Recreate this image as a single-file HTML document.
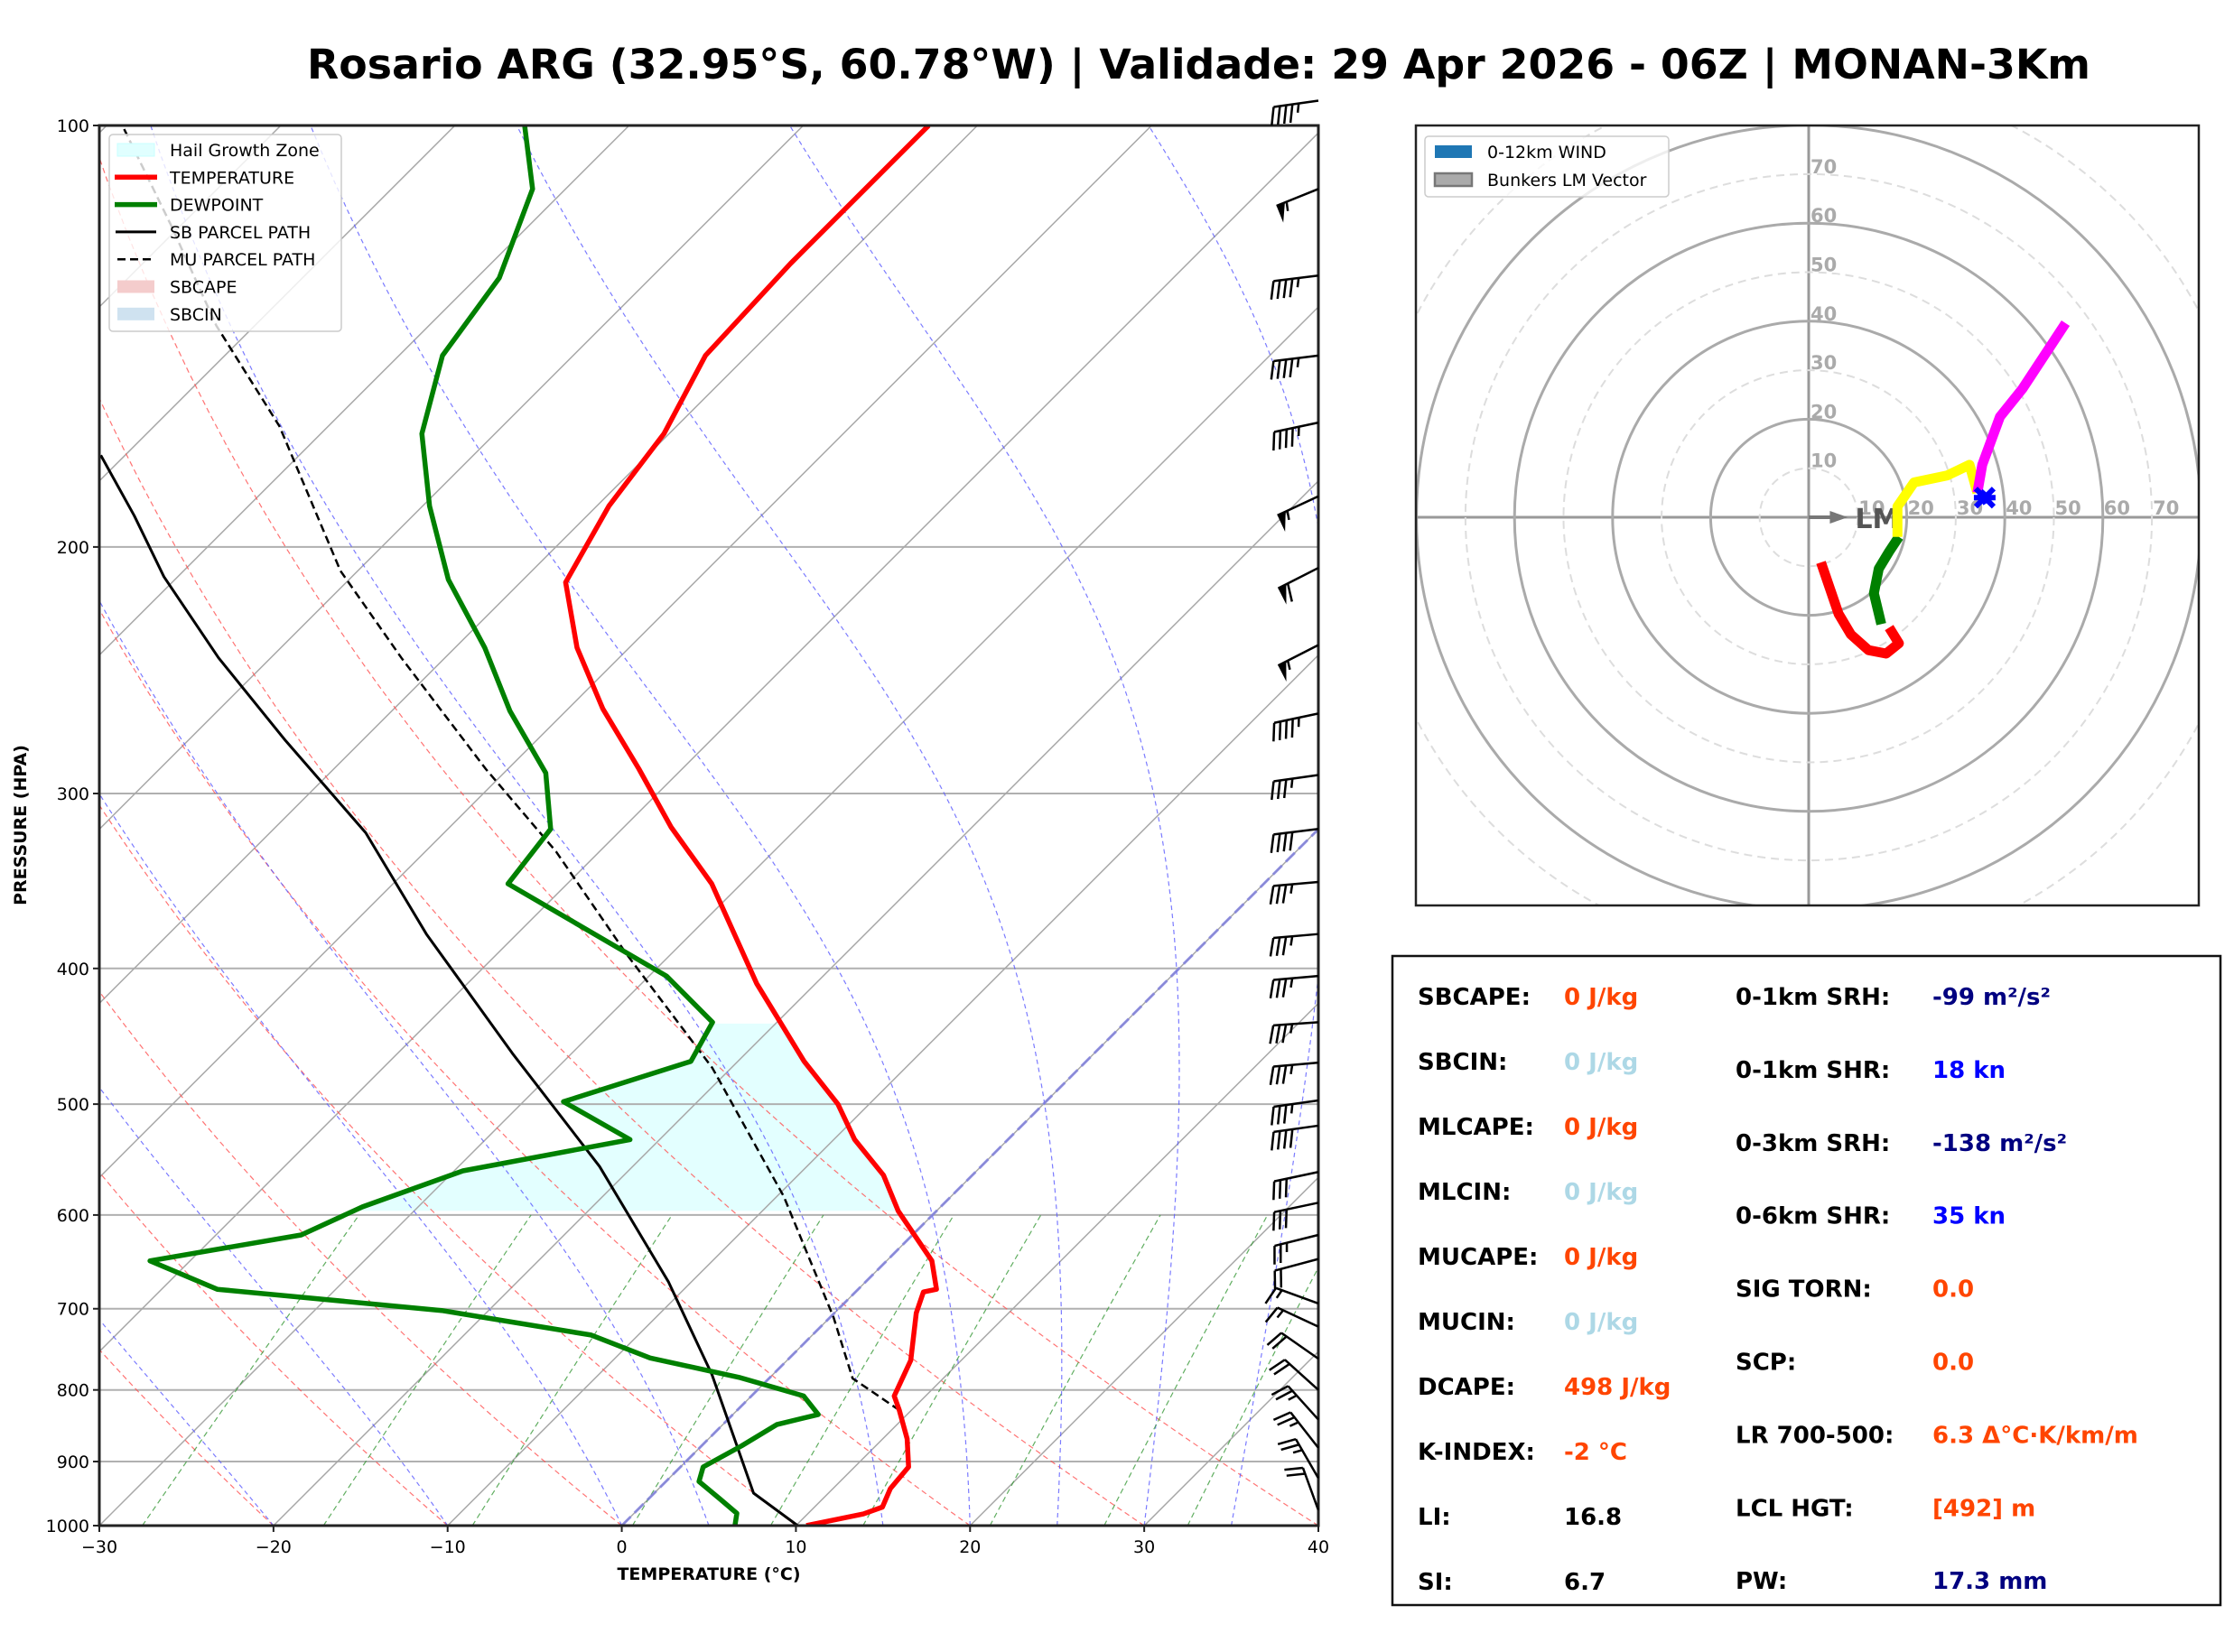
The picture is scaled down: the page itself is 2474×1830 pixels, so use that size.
<!DOCTYPE html>
<html><head><meta charset="utf-8"><style>
html,body{margin:0;padding:0;background:#fff}
svg{display:block;font-family:"DejaVu Sans","Liberation Sans",sans-serif}
</style></head><body>
<svg id="root" width="2474" height="1830" viewBox="0 0 2474 1830" xmlns="http://www.w3.org/2000/svg">
<defs>
<clipPath id="skewClip"><rect x="110" y="139" width="1350" height="1551"/></clipPath>
<clipPath id="hodoClip"><rect x="1568" y="139" width="867" height="864"/></clipPath>
</defs>
<rect width="2474" height="1830" fill="#fff"/>
<text x="340" y="87" font-size="45" font-weight="bold" textLength="1975" lengthAdjust="spacingAndGlyphs">Rosario ARG (32.95°S, 60.78°W) | Validade: 29 Apr 2026 - 06Z | MONAN-3Km</text>
<g id="skew"></g>
<g id="hodo"></g>
<g id="stats"></g>
</svg>
<script>
// ---- Sounding data ----
const tempP = [1000,981,970,941,908,867,827,808,762,705,681,678,647,596,562,530,500,466,410,348,317,288,261,236,212,187,166,146,125.5,100];
const tempT = [10.6,13.2,13.9,13.3,13.1,11.4,9.3,8.2,7.1,4.7,3.9,4.5,2.6,-2.2,-5.1,-8.8,-11.8,-16.2,-23.4,-31.7,-37.3,-42.5,-48,-53,-57.4,-59.3,-60.3,-62.4,-62.8,-62.8];
const dewP = [1000,980,957,930,908,877,847,833,808,784,759,731,702,678,647,620,592,558,530,498,466,437,405,348,318,290,262,236,211,187,166,146,128.5,111,100];
const dewT = [6.5,5.9,4.1,1.9,1.3,2.3,3.1,4.9,3.0,-1.7,-8,-12.7,-22.7,-36.8,-42.3,-35.1,-33.2,-29.5,-21.7,-27.7,-22.7,-23.7,-29,-43.4,-44.1,-47.6,-53.2,-58.3,-64.3,-69.6,-74.2,-77.5,-78.7,-81.9,-86];
const sbP = [1000,948,780,670,554,460,378,320,275,240,210,190,172];
const sbT = [10.1,5.7,-3.5,-11.3,-21.9,-33.4,-45.2,-54.5,-64.4,-73,-80.8,-86,-91.4];
const muP = [827,785,710,582,471,391,330,288,240,208,164,139,118,100];
const muT = [9.3,4.8,0.2,-9.6,-21.1,-32.5,-42.5,-51.3,-62.5,-71,-82.8,-92.2,-100.5,-109.1];
const hailTop = 437, hailBot = 596;
// wind barbs
const barbP = [96,111,128,146,163,184,207,235,263,291,318,347,378,405,437,467,497,518,559,588,620,645,694,721,760,800,840,880,925,975];
const barbSpd = [45,55,45,45,45,55,60,55,45,35,40,35,35,35,35,35,35,40,30,30,25,20,15,15,20,20,25,25,25,20];
const barbDir = [262,248,263,263,258,245,243,243,258,262,263,265,265,265,266,265,262,262,258,258,256,255,290,295,305,312,318,322,330,340];
// hodograph (knots)
const hodoRedU = [2.5,6.1,8.6,12.2,15.8,18.4,16.4];
const hodoRedV = [-9.2,-19.7,-23.9,-27.1,-27.8,-25.7,-22.5];
const hodoGreenU = [14.8,13.3,14.3,16.4,18.4];
const hodoGreenV = [-21.8,-15.5,-10.5,-7,-4];
const hodoYellowU = [18.1,18.1,21.5,28.2,32.8,34.4];
const hodoYellowV = [-4,2.2,7.1,8.5,10.7,5];
const hodoMagU = [34.4,35.4,39,43.6,52.4];
const hodoMagV = [5,10.7,20.5,26.2,39.6];
const hodoBlueU = [34.8,35.9,36.5];
const hodoBlueV = [5,4,3];
const lmU = 8, lmV = 0;
// stats
const statL = [["SBCAPE:","0 J/kg","#ff4500"],["SBCIN:","0 J/kg","#add8e6"],["MLCAPE:","0 J/kg","#ff4500"],["MLCIN:","0 J/kg","#add8e6"],["MUCAPE:","0 J/kg","#ff4500"],["MUCIN:","0 J/kg","#add8e6"],["DCAPE:","498 J/kg","#ff4500"],["K-INDEX:","-2 °C","#ff4500"],["LI:","16.8","#000"],["SI:","6.7","#000"]];
const statR = [["0-1km SRH:","-99 m²/s²","#000080"],["0-1km SHR:","18 kn","#0000ff"],["0-3km SRH:","-138 m²/s²","#000080"],["0-6km SHR:","35 kn","#0000ff"],["SIG TORN:","0.0","#ff4500"],["SCP:","0.0","#ff4500"],["LR 700-500:","6.3 Δ°C·K/km/m","#ff4500"],["LCL HGT:","[492] m","#ff4500"],["PW:","17.3 mm","#000080"]];

const NS="http://www.w3.org/2000/svg";
function mk(tag,attrs,parent){const e=document.createElementNS(NS,tag);for(const k in attrs)e.setAttribute(k,attrs[k]);if(parent)parent.appendChild(e);return e;}
const L=110,R=1460,T0=139,B=1690,PXC=1350/70;
function Y(p){return T0+(Math.log10(p)-2)*1551;}
function X(t,p){return L+(t+30)*PXC+(B-Y(p));}
function pts(P,Tt){return P.map((p,i)=>X(Tt[i],p).toFixed(1)+","+Y(p).toFixed(1)).join(" ");}
const skew=document.getElementById('skew');
const bg=mk('g',{'clip-path':'url(#skewClip)'},skew);


function interp(P,Tt,p){for(let i=0;i<P.length-1;i++){if(p<=P[i]&&p>=P[i+1]){const f=(Math.log(P[i])-Math.log(p))/(Math.log(P[i])-Math.log(P[i+1]));return Tt[i]+f*(Tt[i+1]-Tt[i]);}}return Tt[Tt.length-1];}
{let a=[],b=[];for(let p=hailBot;p>=hailTop;p-=2){a.push(X(interp(dewP,dewT,p),p).toFixed(1)+","+Y(p).toFixed(1));b.unshift(X(interp(tempP,tempT,p),p).toFixed(1)+","+Y(p).toFixed(1));}
const hz=mk('polygon',{points:a.concat(b).join(" "),fill:"#e0ffff",opacity:0.9},bg);

}
for(let p=200;p<=900;p+=100){mk('line',{x1:L,x2:R,y1:Y(p),y2:Y(p),stroke:"#b0b0b0","stroke-width":2},bg);}
for(let t=-130;t<=40;t+=10){mk('line',{x1:X(t,1000),y1:Y(1000),x2:X(t,100),y2:Y(100),stroke:"#a8a8a8","stroke-width":1.5},bg);}
// dry adiabats
for(let th=-40;th<=40;th+=10){let s=[];for(let p=1000;p>=100;p-=10){const t=(th+273.15)*Math.pow(p/1000,0.286)-273.15;s.push(X(t,p).toFixed(1)+","+Y(p).toFixed(1));}
mk('polyline',{points:s.join(" "),fill:"none",stroke:"#ff5050","stroke-width":1.2,"stroke-dasharray":"6,4",opacity:0.8},bg);}
// moist adiabats
function es(tc){return 6.112*Math.exp(17.67*tc/(tc+243.5));}
[-20,-10,0,5,15,20,25,30,35].forEach(t0=>{let tk=t0+273.15,s=[];for(let p=1000;p>=100;p-=5){s.push(X(tk-273.15,p).toFixed(1)+","+Y(p).toFixed(1));const e=es(tk-273.15);const rs=0.622*e/(p-e);const dTdp=(287*tk+2.5e6*rs)/(p*(1004+2.5e6*2.5e6*rs*0.622/(287*tk*tk)));tk-=dTdp*5;}
mk('polyline',{points:s.join(" "),fill:"none",stroke:"#5a5aff","stroke-width":1.2,"stroke-dasharray":"5,4",opacity:0.8},bg);});
[0.4,1,2,4,7,10,16,24,32].forEach(w=>{let s=[];for(let p=1000;p>=600;p-=20){const e=w*p/(622+w);const ln=Math.log(e/6.112);const td=243.5*ln/(17.67-ln);s.push(X(td,p).toFixed(1)+","+Y(p).toFixed(1));}
mk('polyline',{points:s.join(" "),fill:"none",stroke:"#3a9a3a","stroke-width":1.2,"stroke-dasharray":"6,4",opacity:0.8},bg);});
mk('line',{x1:X(0,1000),y1:Y(1000),x2:X(0,100),y2:Y(100),stroke:"#8080e0","stroke-width":3,"stroke-dasharray":"14,6",opacity:0.8},bg);
const sbl=mk('polyline',{points:pts(sbP,sbT),fill:"none",stroke:"#000","stroke-width":3,"stroke-linejoin":"round"},bg);


const mul=mk('polyline',{points:pts(muP,muT),fill:"none",stroke:"#000","stroke-width":2.5,"stroke-dasharray":"9,5"},bg);


const dl=mk('polyline',{points:pts(dewP,dewT),fill:"none",stroke:"#008000","stroke-width":5.5,"stroke-linejoin":"round"},bg);


const tl=mk('polyline',{points:pts(tempP,tempT),fill:"none",stroke:"#ff0000","stroke-width":5.5,"stroke-linejoin":"round"},bg);


mk('rect',{x:L,y:T0,width:R-L,height:B-T0,fill:"none",stroke:"#222","stroke-width":3},skew);
[100,200,300,400,500,600,700,800,900,1000].forEach(p=>{mk('line',{x1:L-7,x2:L,y1:Y(p),y2:Y(p),stroke:"#222","stroke-width":2},skew);
const t=mk('text',{x:L-11,y:Y(p)+7,"font-size":19,"text-anchor":"end"},skew);t.textContent=p;

});
for(let v=-30;v<=40;v+=10){mk('line',{x1:L+(v+30)*PXC,x2:L+(v+30)*PXC,y1:B,y2:B+7,stroke:"#222","stroke-width":2},skew);
const t=mk('text',{x:L+(v+30)*PXC,y:B+30,"font-size":19,"text-anchor":"middle"},skew);t.textContent=(v<0?"−"+(-v):v);

}
{const t=mk('text',{x:785,y:1750,"font-size":19,"font-weight":"bold","text-anchor":"middle"},skew);t.textContent="TEMPERATURE (°C)";


const t2=mk('text',{x:29,y:914,"font-size":19,"font-weight":"bold","text-anchor":"middle",transform:"rotate(-90 29 914)"},skew);t2.textContent="PRESSURE (HPA)";

}
function barb(x0,y0,spd,dir,g){const r=dir*Math.PI/180;const dx=Math.sin(r),dy=-Math.cos(r);const Ls=50;const nx=dy,ny=-dx;const tx=x0+dx*Ls,ty=y0+dy*Ls;
mk('line',{x1:x0,y1:y0,x2:tx,y2:ty,stroke:"#000","stroke-width":2.5},g);
let s=Math.round(spd/5)*5,pos=0;const step=7,fl=20;
while(s>=50){const ax=tx-dx*pos,ay=ty-dy*pos,bx=tx-dx*(pos+10),by=ty-dy*(pos+10);
mk('polygon',{points:`${ax},${ay} ${bx},${by} ${ax+nx*fl},${ay+ny*fl}`,fill:"#000"},g);pos+=12;s-=50;}
while(s>=10){const ax=tx-dx*pos,ay=ty-dy*pos;mk('line',{x1:ax,y1:ay,x2:ax+nx*fl+dx*5,y2:ay+ny*fl+dy*5,stroke:"#000","stroke-width":2.5},g);pos+=step;s-=10;}
if(s>=5){if(pos===0)pos=step;const ax=tx-dx*pos,ay=ty-dy*pos;mk('line',{x1:ax,y1:ay,x2:ax+nx*fl*0.5+dx*2.5,y2:ay+ny*fl*0.5+dy*2.5,stroke:"#000","stroke-width":2.5},g);}}
barbP.forEach((p,i)=>{const g=mk('g',{},skew);


barb(R,Y(p),barbSpd[i],barbDir[i],g);});
{const lg=mk('g',{},skew);


mk('rect',{x:121,y:149,width:257,height:218,rx:4,fill:"#fff","fill-opacity":0.8,stroke:"#ccc","stroke-width":1.5},lg);
const items=[["Hail Growth Zone","patch","#e0ffff"],["TEMPERATURE","line","#ff0000"],["DEWPOINT","line","#008000"],["SB PARCEL PATH","bline","#000"],["MU PARCEL PATH","dash","#000"],["SBCAPE","patch","#f4cccc"],["SBCIN","patch","#cfe2f0"]];
items.forEach((it,i)=>{const y=166+i*30.3;
if(it[1]==="patch")mk('rect',{x:130,y:y-7,width:41,height:14,fill:it[2],stroke:it[0]==="Hail Growth Zone"?"#c8ffff":"none"},lg);
else if(it[1]==="line")mk('line',{x1:127,x2:174,y1:y,y2:y,stroke:it[2],"stroke-width":5.5},lg);
else if(it[1]==="bline")mk('line',{x1:128,x2:173,y1:y,y2:y,stroke:it[2],"stroke-width":3},lg);
else mk('line',{x1:130,x2:172,y1:y,y2:y,stroke:it[2],"stroke-width":2.5,"stroke-dasharray":"9,5"},lg);
const t=mk('text',{x:188,y:y+7,"font-size":19},lg);t.textContent=it[0];

});}

// ---- hodograph ----
const hodo=document.getElementById('hodo');
const HX=2003,HY=573,K=5.43;
function hx(u){return HX+u*K;} function hy(v){return HY-v*K;}
const hg=mk('g',{'clip-path':'url(#hodoClip)'},hodo);
mk('line',{x1:1568,x2:2435,y1:HY,y2:HY,stroke:"#999","stroke-width":3},hg);
mk('line',{x1:HX,x2:HX,y1:139,y2:1003,stroke:"#999","stroke-width":3},hg);
for(let r=10;r<=90;r+=10){const solid=r%20===0;mk('circle',{cx:HX,cy:HY,r:r*K,fill:"none",stroke:solid?"#aaa":"#ddd","stroke-width":solid?3:2,"stroke-dasharray":solid?"none":"9,6"},hg);}
for(let r=10;r<=70;r+=10){const t=mk('text',{x:hx(r)+1,y:HY-3,"font-size":21,"font-weight":"bold",fill:"#aaa"},hg);t.textContent=r;


const t2=mk('text',{x:HX+2,y:hy(r)-1,"font-size":21,"font-weight":"bold",fill:"#aaa"},hg);t2.textContent=r;

}
mk('line',{x1:HX,y1:HY,x2:hx(lmU)-12,y2:hy(lmV),stroke:"#777","stroke-width":4},hg);
mk('polygon',{points:`${hx(lmU)},${hy(lmV)} ${hx(lmU)-20},${hy(lmV)-7} ${hx(lmU)-20},${hy(lmV)+7}`,fill:"#777"},hg);
{const t=mk('text',{x:hx(lmU)+8,y:hy(lmV)+12,"font-size":30,"font-weight":"bold",fill:"#555"},hg);t.textContent="LM";

}
[[hodoRedU,hodoRedV,"#ff0000","hodo-0-3km"],[hodoGreenU,hodoGreenV,"#008000","hodo-3-6km"],[hodoYellowU,hodoYellowV,"#ffff00","hodo-6-9km"],[hodoMagU,hodoMagV,"#ff00ff","hodo-9-12km"],[hodoBlueU,hodoBlueV,"#0000ff","hodo-upper"]].forEach(s=>{
const pl=mk('polyline',{points:s[0].map((u,i)=>hx(u).toFixed(1)+","+hy(s[1][i]).toFixed(1)).join(" "),fill:"none",stroke:s[2],"stroke-width":11,"stroke-linejoin":"round"},hg);

});
{const bx=hx(hodoBlueU[1]),by=hy(hodoBlueV[1]);
const m=mk('path',{d:`M${bx-10},${by-10}L${bx+10},${by+10}M${bx+10},${by-10}L${bx-10},${by+10}M${bx-12},${by}L${bx+12},${by}`,stroke:"#0000ff","stroke-width":6},hg);

}
mk('rect',{x:1568,y:139,width:867,height:864,fill:"none",stroke:"#222","stroke-width":2.5},hodo);
{const lg=mk('g',{},hodo);


mk('rect',{x:1578,y:151,width:270,height:67,rx:4,fill:"#fff","fill-opacity":0.8,stroke:"#ccc","stroke-width":1.5},lg);
mk('rect',{x:1589,y:161,width:41,height:14,fill:"#1f77b4"},lg);
mk('rect',{x:1589,y:192,width:41,height:14,fill:"#aaa",stroke:"#777","stroke-width":2.5},lg);
const a=mk('text',{x:1647,y:175,"font-size":19},lg);a.textContent="0-12km WIND";


const b=mk('text',{x:1647,y:206,"font-size":19},lg);b.textContent="Bunkers LM Vector";

}

// ---- stats ----
const st=document.getElementById('stats');
mk('rect',{x:1542,y:1059,width:917,height:719,fill:"#fff",stroke:"#111","stroke-width":2.5},st);
statL.forEach((s,i)=>{const y=1113+72*i;
const a=mk('text',{x:1570,y:y,"font-size":26,"font-weight":"bold"},st);a.textContent=s[0];


const b=mk('text',{x:1732,y:y,"font-size":26,"font-weight":"bold",fill:s[2]},st);b.textContent=s[1];

});
statR.forEach((s,i)=>{const y=1113+80.9*i;
const a=mk('text',{x:1922,y:y,"font-size":26,"font-weight":"bold"},st);a.textContent=s[0];


const b=mk('text',{x:2140,y:y,"font-size":26,"font-weight":"bold",fill:s[2]},st);b.textContent=s[1];

});
</script>
</body></html>
